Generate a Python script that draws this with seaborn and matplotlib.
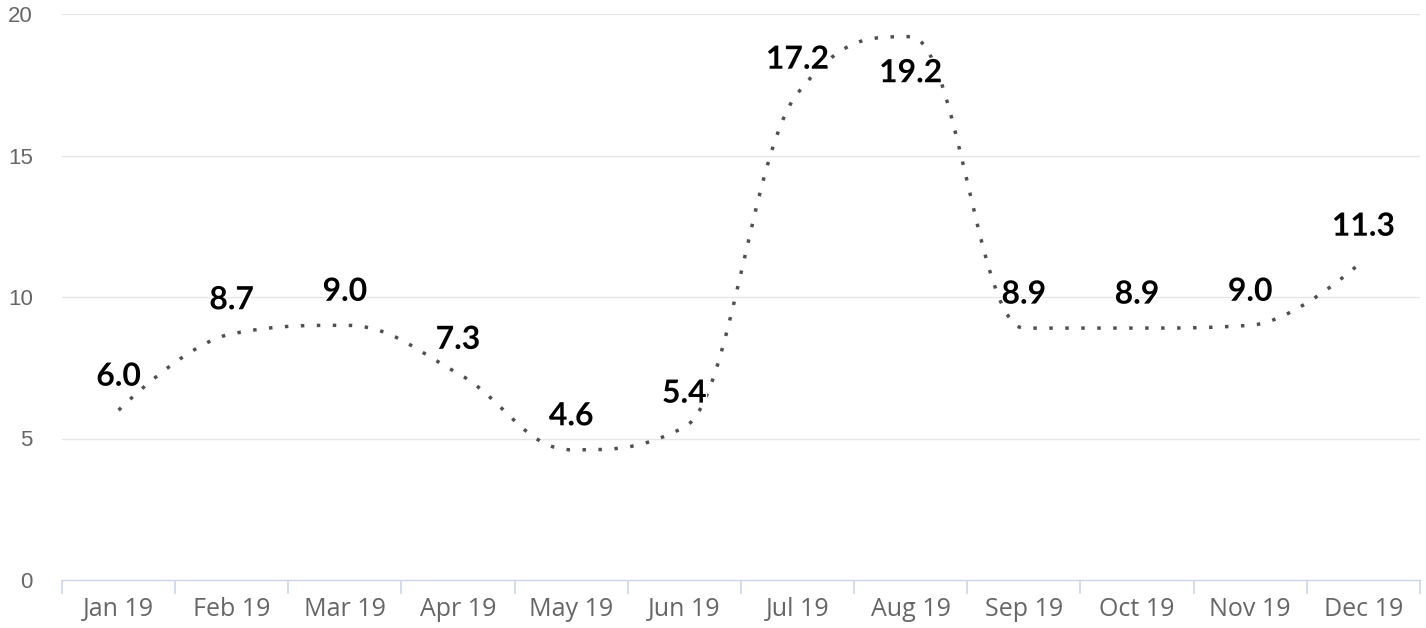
import numpy as np
import pandas as pd
import matplotlib
matplotlib.use("Agg")
import matplotlib.pyplot as plt
import matplotlib.patheffects as pe
import seaborn as sns

# ---- data ----
months = ["Jan 19", "Feb 19", "Mar 19", "Apr 19", "May 19", "Jun 19",
          "Jul 19", "Aug 19", "Sep 19", "Oct 19", "Nov 19", "Dec 19"]
values = [6.0, 8.7, 9.0, 7.3, 4.6, 5.4, 17.2, 19.2, 8.9, 8.9, 9.0, 11.3]
y_ticks = [0, 5, 10, 15, 20]


def highcharts_spline(xs, ys, smoothing=1.5, n=60):
    """Spline through the data points (Highcharts-style control points)."""
    m = len(xs)
    denom = smoothing + 1
    lc = [(xs[i], ys[i]) for i in range(m)]
    rc = [(xs[i], ys[i]) for i in range(m)]
    for i in range(1, m - 1):
        px, py = xs[i], ys[i]
        lx, ly = xs[i - 1], ys[i - 1]
        nx, ny = xs[i + 1], ys[i + 1]
        lcx = (smoothing * px + lx) / denom
        lcy = (smoothing * py + ly) / denom
        rcx = (smoothing * px + nx) / denom
        rcy = (smoothing * py + ny) / denom
        corr = 0.0
        if rcx != lcx:
            corr = (rcy - lcy) * (rcx - px) / (rcx - lcx) + py - rcy
        lcy += corr
        rcy += corr
        if lcy > ly and lcy > py:
            lcy = max(ly, py); rcy = 2 * py - lcy
        elif lcy < ly and lcy < py:
            lcy = min(ly, py); rcy = 2 * py - lcy
        if rcy > ny and rcy > py:
            rcy = max(ny, py); lcy = 2 * py - rcy
        elif rcy < ny and rcy < py:
            rcy = min(ny, py); lcy = 2 * py - rcy
        lc[i] = (lcx, lcy)
        rc[i] = (rcx, rcy)
    outx, outy = [], []
    t = np.linspace(0, 1, n)
    for i in range(m - 1):
        p0 = np.array([xs[i], ys[i]])
        p1 = np.array(rc[i])
        p2 = np.array(lc[i + 1])
        p3 = np.array([xs[i + 1], ys[i + 1]])
        tt = t if i == 0 else t[1:]
        b = ((1 - tt) ** 3)[:, None] * p0 + (3 * (1 - tt) ** 2 * tt)[:, None] * p1 \
            + (3 * (1 - tt) * tt ** 2)[:, None] * p2 + (tt ** 3)[:, None] * p3
        outx.extend(b[:, 0]); outy.extend(b[:, 1])
    return np.array(outx), np.array(outy)


sns.set_theme(style="white")
plt.rcParams["font.family"] = ["Open Sans", "DejaVu Sans"]

W, H = 1426, 628
fig = plt.figure(figsize=(W / 100, H / 100), dpi=100)
ax = fig.add_axes([62 / W, 1 - 580 / H, (1420 - 62) / W, (580 - 14) / H])

xs = np.arange(len(months), dtype=float)
sx, sy = highcharts_spline(list(xs), values)
curve = pd.DataFrame({"x": sx, "y": sy})
sns.lineplot(data=curve, x="x", y="y", sort=False, estimator=None, ax=ax,
             color="#505050", linewidth=2.5, linestyle=(0, (1, 3.6)),
             solid_capstyle="butt", dash_capstyle="butt")

ax.set_xlim(-0.5, len(months) - 0.5)
ax.set_ylim(0, 20)
ax.set_xlabel("")
ax.set_ylabel("")

# grid
ax.set_yticks(y_ticks)
for yv in y_ticks[1:]:
    ax.axhline(yv, color="#e6e6e6", linewidth=1, zorder=0)
for s in ["top", "right", "left"]:
    ax.spines[s].set_visible(False)
ax.spines["bottom"].set_color("#ccd6eb")
ax.spines["bottom"].set_linewidth(1)

ax.set_yticklabels([str(v) for v in y_ticks], fontfamily="Liberation Sans",
                   fontsize=16, color="#666666")
ax.tick_params(axis="y", length=0, pad=21)

ax.set_xticks(xs)
ax.set_xticklabels(months, fontsize=18, color="#666666", fontfamily="Open Sans")
ax.set_xticks(np.arange(len(months) + 1) - 0.5, minor=True)
ax.tick_params(axis="x", which="major", length=0, pad=12)
ax.tick_params(axis="x", which="minor", length=10, color="#ccd6eb", width=1.2,
               direction="out")
ax.tick_params(axis="x", which="minor", bottom=True)

# data labels
top_px = ax.transAxes.transform((0, 1))[1]
for x, v in zip(xs, values):
    # place below if label would be outside top of plot area
    disp = ax.transData.transform((x, v))
    below = disp[1] + 34 + 14 > top_px
    off = -26 if below else 24.5
    ax.annotate(f"{v:.1f}", (x, v), xytext=(0, off), textcoords="offset points",
                ha="center", va="center", fontsize=23, fontweight="bold",
                fontfamily="Lato", color="#000000",
                path_effects=[pe.withStroke(linewidth=2, foreground="white")])

fig.savefig("out.png", dpi=100)
